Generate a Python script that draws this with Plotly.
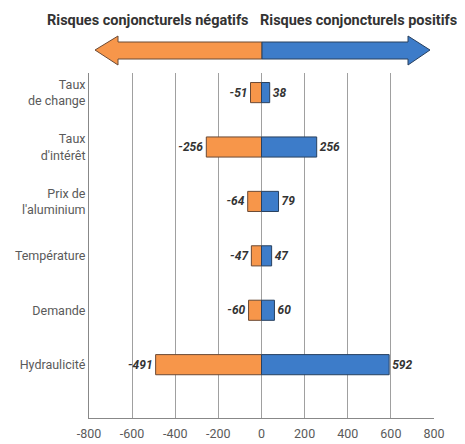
import plotly.graph_objects as go

categories = ["Taux<br>de change", "Taux<br>d'intérêt", "Prix de<br>l'aluminium", "Température", "Demande", "Hydraulicité"]
negative = [-51, -256, -64, -47, -60, -491]
positive = [38, 256, 79, 47, 60, 592]
x_ticks = [-800, -600, -400, -200, 0, 200, 400, 600, 800]
title_neg = "Risques conjoncturels négatifs"
title_pos = "Risques conjoncturels positifs"

ORANGE = "#F7964A"
BLUE = "#3D7CC9"
FONT = "Liberation Sans Narrow, Roboto, Liberation Sans, sans-serif"

OFF = 8  # browser default body margin
W, H = 465 - OFF, 444 - OFF

# target pixel positions in the 465x444 window
L_t, R_t, T_t, B_t = 89, 434, 73, 418
L, T = L_t - OFF, T_t - OFF
R = W - (R_t - OFF)
B = H - (B_t - OFF)
pw, ph = W - L - R, H - T - B

fig = go.Figure()
fig.add_trace(go.Bar(
    y=categories, x=negative, orientation="h", width=0.37,
    marker=dict(color=ORANGE, line=dict(color="#6b4a35", width=1)),
    text=[str(v) for v in negative], textposition="outside", cliponaxis=False,
    textfont=dict(family=FONT, size=12, color="#333333", weight="bold", style="italic"),
    showlegend=False, hoverinfo="skip"))
fig.add_trace(go.Bar(
    y=categories, x=positive, orientation="h", width=0.37,
    marker=dict(color=BLUE, line=dict(color="#28405f", width=1)),
    text=[str(v) for v in positive], textposition="outside", cliponaxis=False,
    textfont=dict(family=FONT, size=12, color="#333333", weight="bold", style="italic"),
    showlegend=False, hoverinfo="skip"))


def px(x):
    return (x - OFF - L) / pw


def py(y):
    return (H - B - (y - OFF)) / ph


# double arrow
mid = 262
tipL, headL, tipR, headR = 95, 118, 430, 408
yc, bt, bb, ht, hb = 50, 42, 59, 36, 65
left_path = (f"M {px(tipL)} {py(yc)} L {px(headL)} {py(ht)} L {px(headL)} {py(bt)} "
             f"L {px(mid)} {py(bt)} L {px(mid)} {py(bb)} L {px(headL)} {py(bb)} L {px(headL)} {py(hb)} Z")
right_path = (f"M {px(tipR)} {py(yc)} L {px(headR)} {py(ht)} L {px(headR)} {py(bt)} "
              f"L {px(mid)} {py(bt)} L {px(mid)} {py(bb)} L {px(headR)} {py(bb)} L {px(headR)} {py(hb)} Z")
fig.add_shape(type="path", xref="paper", yref="paper", path=left_path,
              fillcolor=ORANGE, line=dict(color="#6b4a35", width=1))
fig.add_shape(type="path", xref="paper", yref="paper", path=right_path,
              fillcolor=BLUE, line=dict(color="#28405f", width=1))

fig.add_annotation(x=px(148), y=py(20), xref="paper", yref="paper", text=f"<b>{title_neg}</b>",
                   xanchor="center", yanchor="middle",
                   showarrow=False, font=dict(family=FONT, size=14.5, color="#333333"))
fig.add_annotation(x=px(358), y=py(20), xref="paper", yref="paper", text=f"<b>{title_pos}</b>",
                   xanchor="center", yanchor="middle",
                   showarrow=False, font=dict(family=FONT, size=14.5, color="#333333"))

fig.update_layout(
    width=W, height=H, margin=dict(l=L, r=R, t=T, b=B, autoexpand=False),
    paper_bgcolor="white", plot_bgcolor="white", barmode="relative",
    font=dict(family=FONT, color="#5a5a5a", size=12),
)
fig.update_xaxes(range=[-800, 800], tickvals=x_ticks, ticktext=[str(v) for v in x_ticks],
                 showgrid=True, gridcolor="#a0a0a0", gridwidth=1, zeroline=True,
                 zerolinecolor="#a0a0a0", zerolinewidth=1, showline=True, linecolor="#888888",
                 mirror=False, ticks="", automargin=False, ticklabelstandoff=4,
                 tickfont=dict(size=12.5, color="#5a5a5a"))
fig.update_yaxes(categoryorder="array", categoryarray=categories, range=[5.98, -0.36],
                 showgrid=False, showline=True, linecolor="#888888", ticks="", automargin=False,
                 tickfont=dict(size=12.5, color="#5a5a5a"))

fig.write_html("out.html")
